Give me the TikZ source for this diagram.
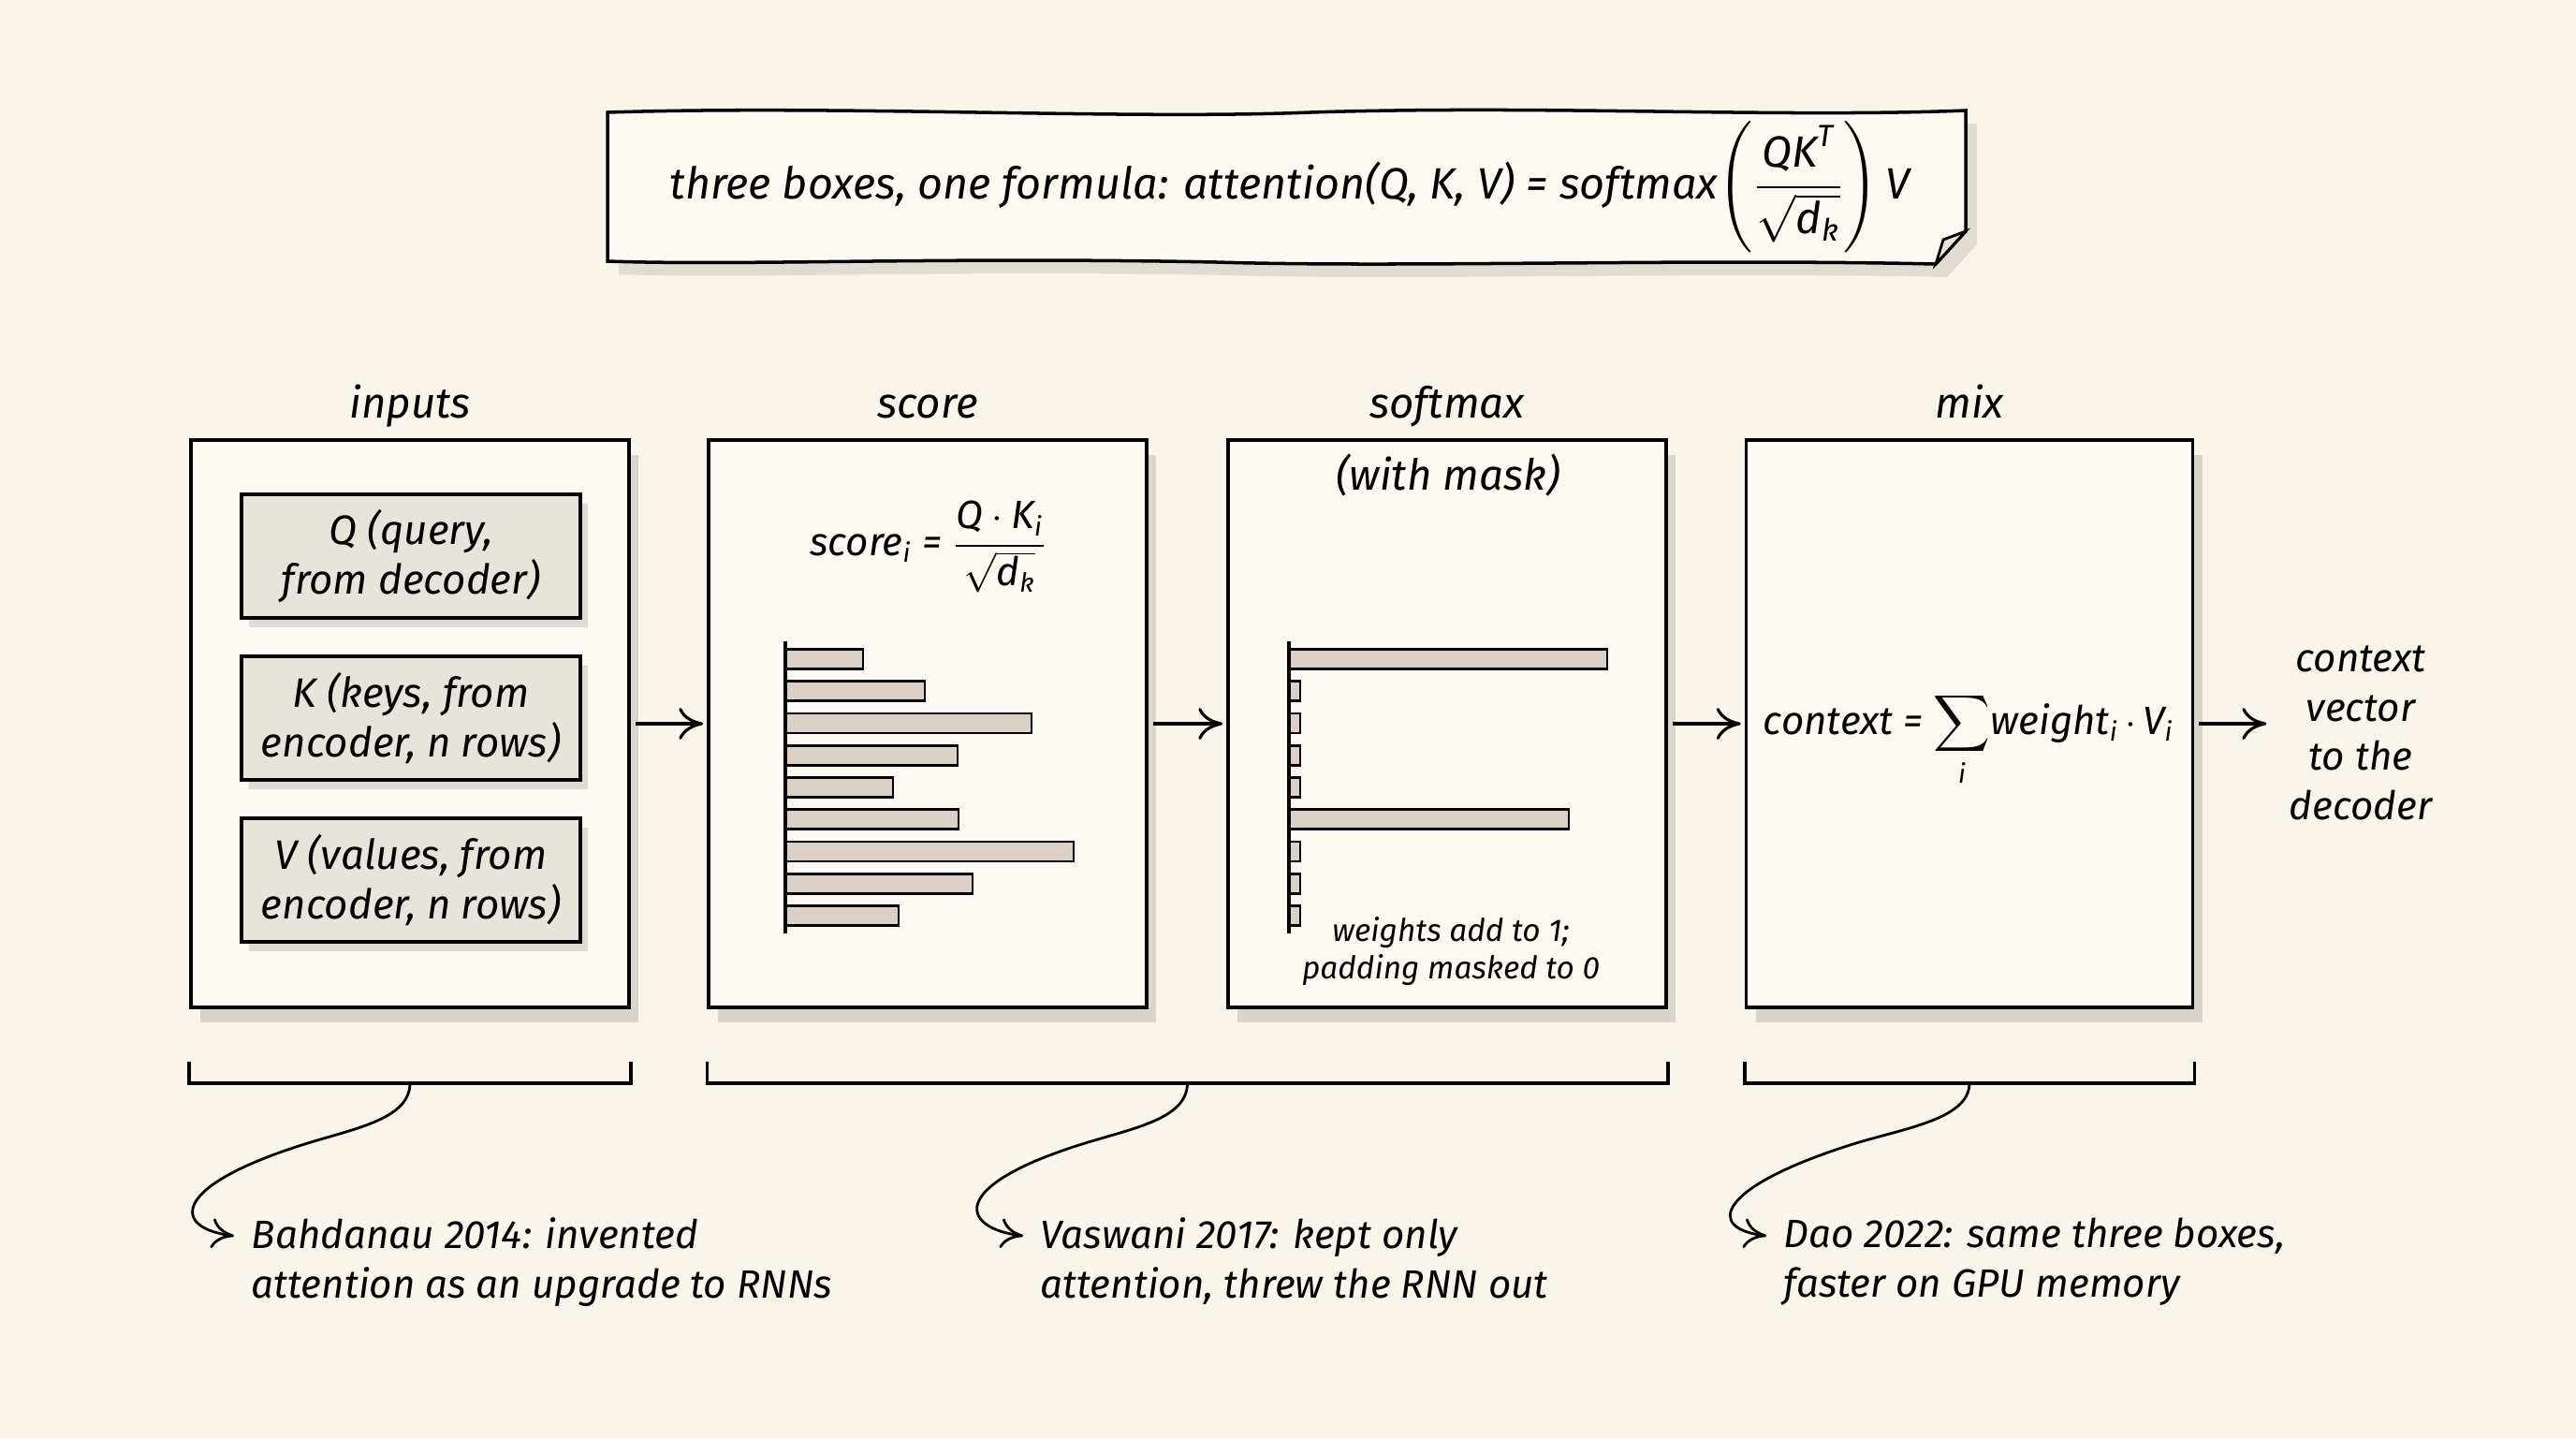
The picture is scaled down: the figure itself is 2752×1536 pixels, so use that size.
\documentclass[tikz,border=0pt]{standalone}
\usepackage{amsmath, amssymb}
\usepackage{fontspec}
\setmainfont{Fira Sans}
\usepackage{xcolor}
\usepackage{tikz}
\usetikzlibrary{arrows, arrows.meta, positioning, calc, shadows}

\definecolor{paper}{RGB}{250,245,233}
\definecolor{boxfill}{RGB}{253,250,243}
\definecolor{keyfill}{RGB}{231,228,220}
\definecolor{barfill}{RGB}{218,208,195}

\newcommand{\ti}[1]{\textit{#1}}

\tikzset{
    stage/.style={draw, line width=1pt, fill=boxfill, minimum width=46.8mm, minimum height=60.6mm,
        drop shadow={shadow xshift=1mm, shadow yshift=-1.6mm, opacity=0.13, fill=black}},
    key/.style={draw, line width=0.9pt, fill=keyfill, minimum width=36.2mm, minimum height=13.2mm,
        align=center, font=\itshape\fontsize{12.5}{15}\selectfont,
        drop shadow={shadow xshift=0.8mm, shadow yshift=-1mm, opacity=0.12, fill=black}},
    head/.style={font=\itshape\fontsize{13}{15}\selectfont, text height=1.7ex, text depth=0.5ex},
    note/.style={anchor=north west, inner sep=0pt, align=left, font=\itshape\fontsize{12}{15}\selectfont},
    small/.style={align=center, font=\itshape\fontsize{9.5}{11.5}\selectfont},
    formula/.style={font=\itshape\fontsize{12}{15}\selectfont},
    flow/.style={-{To[length=2.6mm, width=3.4mm]}, line width=0.9pt, shorten <=0.5mm, shorten >=0.4mm},
    lead/.style={-{To[length=2.4mm, width=3.2mm]}, line width=0.8pt},
    brk/.style={line width=1pt},
    wbar/.style={draw, line width=0.8pt, fill=barfill},
    axis/.style={line width=1pt}
}

\begin{document}
\begin{tikzpicture}[x=0.1mm, y=-0.1mm]
    \useasboundingbox (0,0) rectangle (2752,1536);
    \fill[paper] (0,0) rectangle (2752,1536);

    % title note
    \fill[black, opacity=0.1] (661,134) .. controls (900,126) and (1200,142) .. (1412,134)
        .. controls (1662,126) and (1912,140) .. (2112,132) -- (2112,261) -- (2080,296)
        .. controls (1812,290) and (1512,300) .. (1312,294)
        .. controls (1012,288) and (812,298) .. (661,293) -- cycle;
    \draw[line width=1pt, fill=boxfill] (649,120) .. controls (900,112) and (1200,128) .. (1400,120)
        .. controls (1650,112) and (1900,126) .. (2100,118) -- (2100,247) -- (2068,282)
        .. controls (1800,276) and (1500,286) .. (1300,280)
        .. controls (1000,274) and (800,284) .. (649,279) -- cycle;
    \draw[line width=0.8pt, fill=keyfill] (2100,247) -- (2076,256) -- (2068,282) -- cycle;
    \node[formula, font=\itshape\fontsize{13.3}{16}\selectfont] (ttl) at (1378,200)
        {three boxes, one formula: attention(Q, K, V) = softmax$\left(\dfrac{\ti{QK}^{\ti{T}}}{\sqrt{\ti{d}_{\ti{k}}}}\right)$\,V};

    % the four stages
    \node[stage] (inp) at (438,773) {};
    \node[stage] (scr) at (991,773) {};
    \node[stage] (smx) at (1546,773) {};
    \node[stage, minimum width=47.7mm] (mix) at (2104,773) {};

    \node[head, above=0mm of inp] (hinp) {inputs};
    \node[head, above=0mm of scr] (hscr) {score};
    \node[head, above=0mm of smx] (hsmx) {softmax};
    \node[head, above=0mm of mix] (hmix) {mix};

    % inputs
    \node[key] (q) at (439,594) {Q (query,\\from decoder)};
    \node[key] (k) at (439,767) {K (keys, from\\encoder, n rows)};
    \node[key] (v) at (439,940) {V (values, from\\encoder, n rows)};

    % score
    \node[formula] (sf) at (992,584)
        {score$_{\ti{i}}$ = $\dfrac{\ti{Q}\cdot\ti{K}_{\ti{i}}}{\sqrt{\ti{d}_{\ti{k}}}}$};
    \foreach \len [count=\i] in {83,149,263,184,115,185,308,200,121}
        \draw[wbar] (839,{693.5+34.25*(\i-1)}) rectangle ++(\len,21);
    \draw[axis] (839,685) -- (839,997);

    % softmax
    \node[head] (msk) at (1547,512) {(with mask)};
    \foreach \len [count=\i] in {340,12,12,12,12,299,12,12,12}
        \draw[wbar] (1377,{693.5+34.25*(\i-1)}) rectangle ++(\len,21);
    \draw[axis] (1377,685) -- (1377,997);
    \node[small] (wsum) at (1550,1016) {weights add to 1;\\padding masked to 0};

    % mix
    \node[formula, anchor=base] (ctx) at (2103,784)
        {context = $\displaystyle\sum_{\ti{i}}$weight$_{\ti{i}}\,\cdot\,$V$_{\ti{i}}$};
    \node[formula, align=center] (out) at (2522,783) {context\\vector\\to the\\decoder};

    \draw[flow] (inp.east) -- (scr.west);
    \draw[flow] (scr.east) -- (smx.west);
    \draw[flow] (smx.east) -- (mix.west);
    \draw[flow, shorten >=1.2mm] (mix.east) -- (mix.east -| out.west);

    % brackets
    \draw[brk] ($(inp.south west)+(0,56)$) -- ++(0,23) -| ($(inp.south east)+(0,56)$);
    \draw[brk] ($(scr.south west)+(0,56)$) -- ++(0,23) -| ($(smx.south east)+(0,56)$);
    \draw[brk] ($(mix.south west)+(0,56)$) -- ++(0,23) -| ($(mix.south east)+(0,56)$);
    \coordinate (ba) at ($(inp.south)+(0,79)$);
    \coordinate (bb) at ($($(scr.south)!0.5!(smx.south)$)+(0,79)$);
    \coordinate (bc) at ($(mix.south)+(0,79)$);

    % history notes
    \node[note] (na) at (268,1300) {Bahdanau 2014: invented\\attention as an upgrade to RNNs};
    \node[note] (nb) at (1111,1300) {Vaswani 2017: kept only\\attention, threw the RNN out};
    \node[note] (nc) at (1905,1300) {Dao 2022: same three boxes,\\faster on GPU memory};
    \coordinate (ta) at ($(na.north west)+(-18,20)$);
    \coordinate (tb) at ($(nb.north west)+(-18,20)$);
    \coordinate (tc) at ($(nc.north west)+(-18,20)$);
    \coordinate (ma) at ($(ba)+(-118,67)$);
    \coordinate (mb) at ($(bb)+(-118,67)$);
    \coordinate (mc) at ($(bc)+(-130,67)$);

    \draw[lead] (ba) .. controls +(0,40) and +(55,-18) .. (ma) .. controls +(-140,45) and +(-65,-8) .. (ta);
    \draw[lead] (bb) .. controls +(0,40) and +(55,-18) .. (mb) .. controls +(-140,45) and +(-65,-8) .. (tb);
    \draw[lead] (bc) .. controls +(0,40) and +(55,-18) .. (mc) .. controls +(-140,45) and +(-65,-8) .. (tc);
\end{tikzpicture}
\end{document}
